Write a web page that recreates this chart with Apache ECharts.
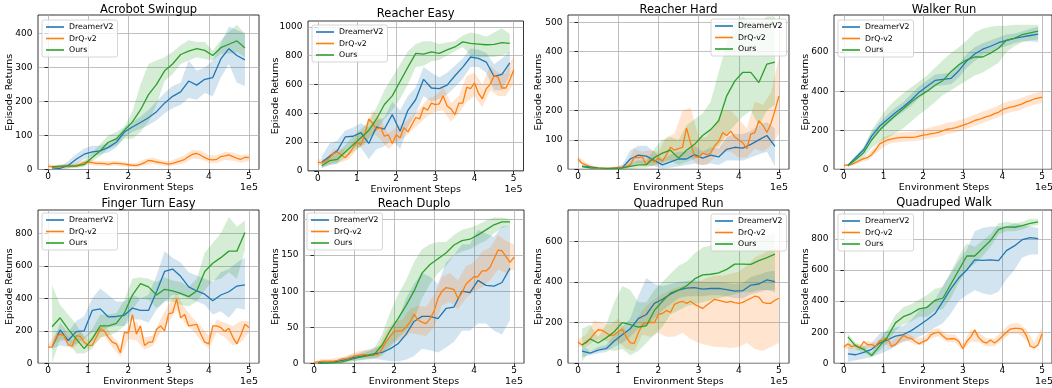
<!DOCTYPE html>
<html style="height: 100%">
<head>
    <meta charset="utf-8">
</head>
<body style="height: 100%; margin: 0; background: #fff">
    <div id="container" style="width: 1052px; height: 388px"></div>
    <script src="https://cdn.jsdelivr.net/npm/echarts@6/dist/echarts.min.js"></script>
    <script type="text/javascript">
        // x positions, in units of 1e5 environment steps
        var stepsA = [0.1, 0.3, 0.5, 0.7, 0.9, 1.1, 1.3, 1.5, 1.7, 1.9, 2.1, 2.3, 2.5, 2.7, 2.9, 3.1, 3.3, 3.5, 3.7, 3.9, 4.1, 4.3, 4.5, 4.7, 4.9];
        var stepsB = [0, 0.1, 0.2, 0.3, 0.4, 0.5, 0.6, 0.7, 0.8, 0.9, 1.0, 1.1, 1.2, 1.3, 1.4, 1.5, 1.6, 1.7, 1.8, 1.9,
            2.0, 2.1, 2.2, 2.3, 2.4, 2.5, 2.6, 2.7, 2.8, 2.9, 3.0, 3.1, 3.2, 3.3, 3.4, 3.5, 3.6, 3.7, 3.8, 3.9,
            4.0, 4.1, 4.2, 4.3, 4.4, 4.5, 4.6, 4.7, 4.8, 4.9, 5.0];
        var stepsC = [0, 0.2, 0.4, 0.6, 0.8, 1.0, 1.2, 1.4, 1.6, 1.8, 2.0, 2.2, 2.4, 2.6, 2.8, 3.0, 3.2, 3.4, 3.6, 3.8, 4.0, 4.2, 4.4, 4.6, 4.8, 5.0];
        var xTicks = [0, 1, 2, 3, 4, 5];
        var methods = ['DreamerV2', 'DrQ-v2', 'Ours'];

        // Acrobot Swingup
        var acroDreamer = [5, 3, 12, 30, 45, 52, 55, 65, 80, 110, 125, 138, 152, 170, 195, 215, 228, 260, 248, 265, 270, 325, 355, 335, 322];
        var acroDreamerLo = [0, 0, 2, 15, 30, 40, 45, 50, 65, 95, 110, 120, 130, 145, 165, 180, 190, 210, 205, 225, 215, 270, 310, 255, 245];
        var acroDreamerHi = [10, 8, 25, 45, 62, 70, 70, 80, 95, 125, 140, 155, 175, 200, 225, 245, 255, 320, 290, 300, 320, 370, 420, 410, 400];
        var acroOurs = [8, 10, 10, 10, 15, 35, 55, 80, 90, 115, 140, 175, 220, 250, 290, 310, 338, 348, 355, 350, 335, 358, 368, 378, 357];
        var acroOursLo = [5, 5, 5, 5, 8, 25, 40, 60, 70, 90, 90, 110, 140, 190, 260, 280, 310, 320, 330, 325, 320, 340, 340, 345, 330];
        var acroOursHi = [12, 15, 15, 15, 25, 50, 75, 100, 110, 125, 170, 250, 310, 320, 330, 345, 365, 380, 375, 375, 350, 380, 405, 425, 400];
        var acroDrq = [10, 8, 6, 8, 10, 10, 10, 12, 15, 20, 22, 20, 18, 18, 17, 15, 18, 18, 17, 16, 14, 12, 12, 15, 20,
            27, 25, 22, 20, 18, 16, 18, 22, 25, 30, 38, 45, 47, 42, 35, 30, 28, 30, 38, 40, 43, 38, 33, 30, 36, 35];
        var acroDrqLo = [4, 1, 4, 4, 8, 14, 11, 10, 11, 10, 8, 6, 12, 16, 12, 9, 13, 19, 32, 30, 20, 19, 28, 26, 20, 25];
        var acroDrqHi = [16, 11, 16, 16, 23, 30, 25, 24, 25, 24, 20, 18, 30, 35, 28, 24, 32, 42, 58, 55, 42, 42, 52, 50, 42, 45];

        // Reacher Easy
        var reDreamer = [60, 100, 140, 235, 240, 265, 190, 305, 290, 390, 275, 420, 495, 635, 575, 570, 595, 660, 720, 790, 780, 755, 655, 670, 750];
        var reDreamerLo = [20, 40, 50, 150, 170, 160, 80, 150, 170, 220, 150, 300, 400, 520, 480, 500, 530, 580, 640, 720, 720, 680, 560, 560, 660];
        var reDreamerHi = [100, 190, 210, 280, 300, 330, 300, 350, 370, 480, 420, 520, 580, 720, 680, 650, 680, 730, 780, 850, 840, 820, 740, 780, 830];
        var reOurs = [35, 70, 80, 130, 180, 230, 280, 360, 460, 520, 620, 720, 815, 810, 825, 815, 840, 860, 895, 885, 880, 875, 878, 890, 885];
        var reOursLo = [20, 40, 50, 90, 130, 170, 220, 280, 360, 420, 500, 600, 720, 730, 760, 770, 800, 830, 860, 800, 790, 790, 790, 800, 820];
        var reOursHi = [50, 100, 120, 180, 240, 290, 340, 440, 560, 650, 740, 830, 880, 900, 900, 880, 890, 900, 940, 960, 950, 930, 960, 990, 950];
        var reDrq = [60, 55, 65, 90, 120, 130, 110, 90, 120, 160, 200, 180, 250, 360, 330, 290, 300, 240, 250, 190,
            250, 230, 300, 270, 320, 370, 360, 440, 420, 470, 460, 465, 520, 450, 430, 390, 470, 470, 580, 570,
            610, 540, 500, 570, 600, 660, 650, 575, 575, 630, 700];
        var reDrqLo = [40, 40, 60, 60, 80, 150, 180, 260, 220, 150, 200, 230, 280, 330, 380, 410, 420, 340, 400, 480, 520, 440, 560, 520, 520, 610];
        var reDrqHi = [80, 80, 150, 150, 160, 250, 290, 420, 360, 260, 300, 330, 380, 430, 500, 520, 580, 470, 520, 660, 680, 600, 730, 680, 680, 800];

        // Reacher Hard
        var rhDreamer = [10, 5, 3, 2, 3, 5, 35, 48, 45, 30, 15, 25, 35, 35, 50, 38, 48, 42, 68, 75, 72, 85, 100, 115, 78];
        var rhDreamerLo = [5, 2, 0, 0, 0, 0, 10, 20, 15, 10, 2, 5, 10, 15, 20, 15, 20, 15, 30, 30, 30, 40, 50, 60, 10];
        var rhDreamerHi = [15, 8, 5, 5, 6, 15, 65, 80, 80, 60, 35, 50, 60, 60, 80, 60, 75, 70, 110, 120, 120, 130, 150, 160, 140];
        var rhOurs = [10, 8, 5, 3, 3, 5, 10, 15, 15, 40, 55, 65, 38, 65, 85, 115, 135, 165, 250, 300, 330, 330, 295, 358, 365];
        var rhOursLo = [5, 4, 2, 0, 0, 0, 0, 5, 5, 15, 20, 30, 15, 25, 35, 50, 60, 80, 120, 150, 180, 200, 150, 200, 220];
        var rhOursHi = [15, 12, 8, 6, 6, 10, 20, 30, 30, 70, 100, 110, 100, 150, 170, 190, 230, 330, 430, 500, 520, 500, 500, 520, 520];
        var rhDrq = [35, 20, 15, 8, 5, 3, 2, 2, 3, 5, 5, 5, 8, 15, 40, 40, 42, 15, 35, 25,
            38, 28, 50, 75, 65, 70, 75, 140, 90, 45, 40, 55, 50, 55, 80, 95, 125, 115, 130, 110,
            100, 90, 70, 120, 125, 165, 150, 125, 155, 200, 250];
        var rhDrqLo = [25, 8, 2, 0, 0, 0, 2, 20, 20, 10, 15, 30, 30, 40, 40, 15, 15, 40, 60, 60, 40, 40, 70, 60, 80, 120];
        var rhDrqHi = [45, 22, 10, 5, 8, 12, 20, 70, 60, 65, 60, 110, 120, 200, 210, 110, 110, 150, 200, 200, 170, 140, 230, 220, 260, 380];

        // Walker Run
        var wrDreamer = [20, 60, 100, 170, 220, 255, 290, 320, 355, 395, 425, 455, 460, 465, 505, 555, 590, 615, 630, 648, 660, 670, 678, 685, 692];
        var wrDreamerLo = [15, 50, 85, 150, 200, 230, 265, 295, 325, 365, 395, 425, 430, 435, 470, 520, 555, 585, 600, 620, 630, 645, 655, 655, 650];
        var wrDreamerHi = [25, 70, 115, 190, 240, 280, 315, 345, 385, 425, 455, 485, 490, 495, 540, 590, 625, 645, 660, 675, 690, 695, 705, 720, 730];
        var wrOurs = [18, 50, 85, 150, 200, 240, 275, 310, 345, 375, 400, 430, 455, 500, 535, 560, 575, 575, 595, 620, 660, 670, 690, 698, 707];
        var wrOursLo = [10, 35, 60, 110, 140, 160, 185, 210, 245, 280, 310, 345, 380, 405, 430, 455, 480, 495, 520, 545, 600, 630, 650, 660, 665];
        var wrOursHi = [25, 65, 110, 200, 260, 315, 355, 390, 420, 450, 480, 520, 560, 595, 625, 660, 700, 720, 730, 735, 735, 740, 740, 740, 740];
        var wrDrq = [20, 22, 25, 35, 45, 55, 60, 75, 100, 130, 140, 150, 155, 160, 162, 163, 163, 163, 165, 170,
            175, 178, 183, 185, 190, 198, 205, 208, 212, 218, 225, 232, 240, 250, 255, 262, 270, 275, 285, 292,
            305, 312, 318, 322, 328, 335, 345, 352, 360, 365, 370];
        var wrDrqLo = [15, 18, 35, 45, 80, 115, 135, 140, 142, 145, 152, 160, 168, 180, 188, 200, 215, 230, 245, 260, 278, 292, 300, 318, 330, 340];
        var wrDrqHi = [25, 32, 55, 75, 120, 165, 180, 188, 190, 195, 205, 215, 225, 238, 245, 258, 272, 288, 302, 318, 338, 350, 360, 375, 390, 400];

        // Finger Turn Easy
        var ftDreamer = [100, 205, 140, 195, 200, 325, 335, 285, 288, 295, 340, 325, 325, 440, 565, 580, 535, 470, 445, 425, 385, 420, 440, 475, 482];
        var ftDreamerLo = [90, 110, 100, 120, 150, 190, 200, 220, 230, 230, 270, 270, 250, 330, 380, 420, 420, 400, 380, 360, 300, 320, 280, 340, 330];
        var ftDreamerHi = [110, 250, 190, 260, 290, 400, 460, 420, 380, 380, 420, 400, 420, 540, 690, 650, 620, 560, 540, 520, 500, 560, 580, 620, 650];
        var ftOurs = [225, 280, 210, 150, 90, 150, 230, 230, 245, 310, 420, 490, 470, 420, 455, 445, 430, 410, 445, 565, 615, 650, 690, 690, 805];
        var ftOursLo = [0, 150, 140, 60, 60, 90, 160, 170, 190, 230, 330, 400, 390, 340, 380, 380, 360, 350, 380, 450, 510, 520, 560, 520, 700];
        var ftOursHi = [480, 360, 300, 240, 160, 210, 300, 300, 310, 390, 520, 530, 520, 500, 530, 510, 500, 470, 520, 680, 740, 800, 900, 840, 880];
        var ftDrq = [100, 100, 160, 180, 170, 115, 105, 170, 165, 130, 110, 110, 160, 210, 200, 160, 130, 120, 65, 190,
            185, 300, 180, 230, 110, 130, 130, 210, 230, 200, 305, 310, 395, 280, 300, 230, 235, 240, 180, 130,
            120, 230, 230, 220, 195, 215, 160, 120, 175, 240, 220];
        var ftDrqLo = [90, 130, 140, 85, 130, 90, 130, 170, 100, 40, 150, 140, 85, 105, 190, 250, 330, 250, 200, 140, 90, 190, 160, 110, 130, 190];
        var ftDrqHi = [110, 190, 200, 135, 200, 140, 200, 240, 170, 110, 230, 260, 160, 170, 270, 360, 430, 340, 280, 230, 170, 270, 250, 230, 260, 260];

        // Reach Duplo
        var rdDreamer = [1, 2, 2, 4, 7, 9, 11, 13, 15, 20, 27, 40, 58, 65, 65, 62, 76, 78, 100, 98, 115, 108, 107, 112, 132];
        var rdDreamerLo = [0, 0, 0, 1, 3, 4, 5, 6, 5, 3, 3, 5, 10, 20, 18, 15, 22, 30, 45, 45, 55, 55, 45, 40, 60];
        var rdDreamerHi = [2, 3, 4, 7, 11, 14, 18, 22, 25, 40, 60, 90, 110, 125, 120, 110, 140, 150, 165, 165, 185, 180, 175, 190, 190];
        var rdOurs = [0, 0, 1, 2, 5, 8, 10, 12, 25, 45, 62, 80, 100, 125, 137, 145, 153, 164, 170, 172, 178, 185, 192, 196, 196];
        var rdOursLo = [0, 0, 0, 0, 2, 4, 6, 7, 10, 22, 35, 45, 60, 90, 110, 125, 135, 150, 155, 158, 165, 170, 180, 188, 190];
        var rdOursHi = [1, 1, 2, 4, 8, 12, 15, 20, 40, 70, 95, 115, 140, 158, 165, 168, 168, 178, 185, 188, 192, 198, 202, 202, 200];
        var rdDrq = [1, 2, 3, 3, 3, 3, 4, 6, 6, 8, 10, 11, 12, 12, 11, 12, 12, 20, 30, 37,
            44, 45, 45, 50, 57, 68, 60, 57, 55, 62, 72, 90, 100, 105, 104, 102, 90, 98, 110, 115,
            120, 120, 128, 128, 133, 145, 157, 156, 148, 140, 147];
        var rdDrqLo = [0, 1, 1, 2, 3, 6, 8, 7, 8, 20, 30, 33, 42, 40, 38, 50, 80, 85, 75, 90, 100, 105, 115, 130, 125, 130];
        var rdDrqHi = [3, 6, 6, 8, 10, 15, 18, 18, 22, 45, 58, 60, 75, 80, 78, 95, 120, 125, 115, 135, 140, 155, 160, 178, 170, 165];

        // Quadruped Run
        var qrDreamer = [60, 50, 65, 72, 110, 140, 170, 220, 240, 295, 315, 340, 360, 370, 372, 365, 368, 368, 362, 355, 357, 385, 390, 410, 402];
        var qrDreamerLo = [30, 40, 50, 55, 80, 100, 130, 170, 180, 220, 260, 290, 320, 330, 330, 330, 335, 335, 330, 320, 320, 340, 350, 360, 350];
        var qrDreamerHi = [90, 60, 80, 90, 140, 180, 220, 330, 420, 390, 380, 390, 400, 405, 410, 400, 400, 400, 395, 390, 395, 425, 435, 450, 455];
        var qrOurs = [90, 120, 100, 125, 155, 200, 190, 178, 185, 260, 305, 345, 360, 380, 415, 435, 438, 445, 462, 488, 488, 487, 505, 520, 537];
        var qrOursLo = [10, 60, 70, 70, 60, 70, 40, 60, 100, 140, 180, 240, 260, 280, 290, 300, 310, 320, 330, 340, 350, 350, 360, 360, 360];
        var qrOursHi = [170, 190, 130, 190, 300, 380, 360, 300, 300, 360, 400, 440, 480, 500, 540, 570, 580, 590, 600, 600, 600, 610, 620, 630, 640];
        var qrDrq = [105, 90, 100, 120, 145, 165, 162, 150, 135, 140, 155, 168, 130, 100, 98, 150, 190, 200, 202, 200,
            240, 245, 260, 250, 290, 300, 305, 295, 305, 290, 280, 270, 285, 300, 315, 310, 305, 300, 305, 298,
            295, 300, 310, 320, 330, 325, 300, 295, 295, 310, 320];
        var qrDrqLo = [85, 80, 110, 120, 100, 110, 70, 60, 140, 130, 150, 130, 130, 150, 120, 100, 90, 80, 80, 75, 80, 100, 70, 60, 80, 100];
        var qrDrqHi = [120, 140, 210, 200, 190, 220, 160, 200, 260, 300, 330, 350, 370, 380, 400, 400, 420, 430, 430, 440, 450, 480, 520, 540, 560, 580];

        // Quadruped Walk
        var qwDreamer = [60, 55, 70, 90, 130, 150, 175, 185, 210, 245, 280, 320, 400, 480, 550, 600, 665, 662, 665, 660, 725, 755, 795, 808, 802];
        var qwDreamerLo = [10, 20, 30, 40, 60, 80, 110, 140, 150, 170, 200, 230, 260, 320, 400, 440, 470, 450, 440, 460, 540, 600, 680, 700, 700];
        var qwDreamerHi = [110, 90, 110, 130, 190, 210, 230, 240, 280, 340, 370, 410, 500, 580, 660, 730, 850, 870, 880, 880, 880, 900, 890, 880, 870];
        var qwOurs = [170, 110, 90, 50, 110, 170, 260, 300, 320, 350, 360, 405, 420, 510, 600, 690, 690, 740, 790, 860, 878, 875, 885, 900, 910];
        var qwOursLo = [130, 90, 70, 40, 80, 130, 210, 250, 270, 300, 300, 340, 350, 420, 520, 600, 640, 690, 750, 830, 850, 850, 860, 880, 890];
        var qwOursHi = [190, 130, 110, 70, 150, 220, 310, 360, 380, 410, 440, 480, 490, 590, 690, 770, 750, 790, 830, 900, 910, 900, 910, 930, 930];
        var qwDrq = [105, 125, 105, 118, 100, 140, 120, 120, 110, 145, 150, 160, 110, 120, 150, 180, 165, 160, 140, 125,
            140, 150, 185, 195, 200, 175, 155, 158, 158, 140, 95, 140, 170, 215, 165, 140, 130, 150, 130, 150,
            175, 200, 220, 225, 225, 220, 180, 110, 100, 120, 190];
        var qwDrqLo = [95, 90, 85, 100, 95, 130, 95, 130, 145, 120, 120, 160, 175, 135, 135, 80, 140, 135, 110, 110, 150, 190, 190, 150, 80, 150];
        var qwDrqHi = [120, 125, 120, 145, 130, 175, 140, 180, 195, 165, 165, 215, 225, 185, 185, 125, 215, 200, 160, 160, 210, 255, 260, 220, 135, 230];

        var FONT = 'DejaVu Sans';
        var colors = { 'DreamerV2': '#1f77b4', 'DrQ-v2': '#ff7f0e', 'Ours': '#2ca02c' };
        var fills = { 'DreamerV2': 'rgba(31,119,180,0.2)', 'DrQ-v2': 'rgba(255,127,14,0.2)', 'Ours': 'rgba(44,160,44,0.2)' };

        // layout of each subplot (pixels)
        var panels = [
            { title: 'Acrobot Swingup', left: 38, top: 15, width: 221, height: 154.5, ymax: 454, yTicks: [0, 100, 200, 300, 400], titleY: 10, nameX: 10, lg: [42, 20],
              DreamerV2: [acroDreamer, acroDreamerLo, acroDreamerHi], 'DrQ-v2': [acroDrq, acroDrqLo, acroDrqHi], Ours: [acroOurs, acroOursLo, acroOursHi] },
            { title: 'Reacher Easy', left: 308, top: 21, width: 215.5, height: 149.8, ymax: 1040, yTicks: [0, 200, 400, 600, 800, 1000], titleY: 14, nameX: 276, lg: [312, 25],
              DreamerV2: [reDreamer, reDreamerLo, reDreamerHi], 'DrQ-v2': [reDrq, reDrqLo, reDrqHi], Ours: [reOurs, reOursLo, reOursHi] },
            { title: 'Reacher Hard', left: 568, top: 15, width: 221, height: 154.3, ymax: 525, yTicks: [0, 100, 200, 300, 400, 500], titleY: 10, nameX: 539, lg: [711, 19],
              DreamerV2: [rhDreamer, rhDreamerLo, rhDreamerHi], 'DrQ-v2': [rhDrq, rhDrqLo, rhDrqHi], Ours: [rhOurs, rhOursLo, rhOursHi] },
            { title: 'Walker Run', left: 834, top: 15, width: 220, height: 154.3, ymax: 790, yTicks: [0, 200, 400, 600], titleY: 10, nameX: 806, lg: [838, 20],
              DreamerV2: [wrDreamer, wrDreamerLo, wrDreamerHi], 'DrQ-v2': [wrDrq, wrDrqLo, wrDrqHi], Ours: [wrOurs, wrOursLo, wrOursHi] },
            { title: 'Finger Turn Easy', left: 38, top: 210, width: 221, height: 153.3, ymax: 943, yTicks: [0, 200, 400, 600, 800], titleY: 204, nameX: 10, lg: [42, 213],
              DreamerV2: [ftDreamer, ftDreamerLo, ftDreamerHi], 'DrQ-v2': [ftDrq, ftDrqLo, ftDrqHi], Ours: [ftOurs, ftOursLo, ftOursHi] },
            { title: 'Reach Duplo', left: 304, top: 210, width: 220, height: 153.3, ymax: 212.5, yTicks: [0, 50, 100, 150, 200], titleY: 204, nameX: 276, lg: [307, 213],
              DreamerV2: [rdDreamer, rdDreamerLo, rdDreamerHi], 'DrQ-v2': [rdDrq, rdDrqLo, rdDrqHi], Ours: [rdOurs, rdOursLo, rdOursHi] },
            { title: 'Quadruped Run', left: 568, top: 210, width: 221, height: 153.3, ymax: 754, yTicks: [0, 200, 400, 600], titleY: 204, nameX: 539, lg: [711, 214],
              DreamerV2: [qrDreamer, qrDreamerLo, qrDreamerHi], 'DrQ-v2': [qrDrq, qrDrqLo, qrDrqHi], Ours: [qrOurs, qrOursLo, qrOursHi] },
            { title: 'Quadruped Walk', left: 834, top: 210, width: 220, height: 153.3, ymax: 986, yTicks: [0, 200, 400, 600, 800], titleY: 203.5, nameX: 806, lg: [838, 214],
              DreamerV2: [qwDreamer, qwDreamerLo, qwDreamerHi], 'DrQ-v2': [qwDrq, qwDrqLo, qwDrqHi], Ours: [qwOurs, qwOursLo, qwOursHi] }
        ];

        var grids = [], xAxes = [], yAxes = [], series = [], legends = [], graphics = [];

        function pairs(xs, ys) {
            return xs.map(function (x, j) { return [x, ys[j]]; });
        }
        function plain(v) { return String(v); }

        // shaded band between lo and hi, drawn as one polygon through the axis scales
        function bandSeries(i, xs, lo, hi, color) {
            return {
                type: 'custom', xAxisIndex: i, yAxisIndex: i, silent: true, z: 1, clip: true,
                data: [[xs[0], lo[0]]],
                renderItem: function (params, api) {
                    var pts = [];
                    for (var j = 0; j < xs.length; j++) pts.push(api.coord([xs[j], lo[j]]));
                    for (var j2 = xs.length - 1; j2 >= 0; j2--) pts.push(api.coord([xs[j2], hi[j2]]));
                    return { type: 'polygon', shape: { points: pts }, style: { fill: color, stroke: null } };
                }
            };
        }

        panels.forEach(function (p, i) {
            grids.push({
                left: p.left, top: p.top, width: p.width, height: p.height,
                show: true, borderColor: '#000', borderWidth: 0.8, backgroundColor: 'transparent'
            });
            xAxes.push({
                gridIndex: i, type: 'value', min: -0.25, max: 5.25,
                axisLine: { show: false },
                axisTick: { show: true, length: 3.5, customValues: xTicks, lineStyle: { color: '#000', width: 0.8 } },
                axisLabel: { customValues: xTicks, formatter: plain, fontFamily: FONT, fontSize: 9, color: '#000', margin: 3 },
                splitLine: { show: true, lineStyle: { color: '#b0b0b0', width: 0.8 } }
            });
            yAxes.push({
                gridIndex: i, type: 'value', min: 0, max: p.ymax,
                axisLine: { show: false },
                axisTick: { show: true, length: 3.5, customValues: p.yTicks, lineStyle: { color: '#000', width: 0.8 } },
                axisLabel: { customValues: p.yTicks, formatter: plain, fontFamily: FONT, fontSize: 9, color: '#000', margin: 5.5 },
                splitLine: { show: true, lineStyle: { color: '#b0b0b0', width: 0.8 } }
            });

            // shaded bands first, under all lines
            methods.forEach(function (m) {
                var d = p[m];
                var xs = m === 'DrQ-v2' ? stepsC : stepsA;
                series.push(bandSeries(i, xs, d[1], d[2], fills[m]));
            });
            methods.forEach(function (m) {
                var xs = m === 'DrQ-v2' ? stepsB : stepsA;
                series.push({
                    type: 'line', name: m, xAxisIndex: i, yAxisIndex: i,
                    data: pairs(xs, p[m][0]), symbol: 'none', z: 3,
                    lineStyle: { color: colors[m], width: 1.3 },
                    itemStyle: { color: colors[m] }
                });
            });

            legends.push({
                data: methods, left: p.lg[0], top: p.lg[1], orient: 'vertical',
                icon: 'rect', itemWidth: 18, itemHeight: 1.6, itemGap: 3.5,
                padding: [3, 4, 3, 4], selectedMode: false,
                backgroundColor: 'rgba(255,255,255,0.8)', borderColor: '#cccccc', borderWidth: 0.8, borderRadius: 2,
                textStyle: { fontFamily: FONT, fontSize: 7.8, color: '#000' }
            });

            var cx = p.left + p.width / 2;
            var bottom = p.top + p.height;
            graphics.push({
                type: 'text', x: cx, y: p.titleY,
                style: { text: p.title, fontFamily: FONT, fontSize: 11.5, fill: '#000', align: 'center', verticalAlign: 'middle' }
            });
            graphics.push({
                type: 'text', x: cx, y: bottom + 18.5,
                style: { text: 'Environment Steps', fontFamily: FONT, fontSize: 9.5, fill: '#000', align: 'center', verticalAlign: 'middle' }
            });
            graphics.push({
                type: 'text', x: p.nameX, y: p.top + p.height / 2, rotation: Math.PI / 2,
                style: { text: 'Episode Returns', fontFamily: FONT, fontSize: 9.5, fill: '#000', align: 'center', verticalAlign: 'middle' }
            });
            graphics.push({
                type: 'text', x: p.left + p.width - 1, y: bottom + 18.5,
                style: { text: '1e5', fontFamily: FONT, fontSize: 9.5, fill: '#000', align: 'right', verticalAlign: 'middle' }
            });
        });

        var dom = document.getElementById('container');
        var myChart = echarts.init(dom);
        var option = {
            animation: false,
            backgroundColor: '#fff',
            grid: grids,
            xAxis: xAxes,
            yAxis: yAxes,
            legend: legends,
            graphic: graphics,
            series: series
        };
        myChart.setOption(option);
    </script>
</body>
</html>
